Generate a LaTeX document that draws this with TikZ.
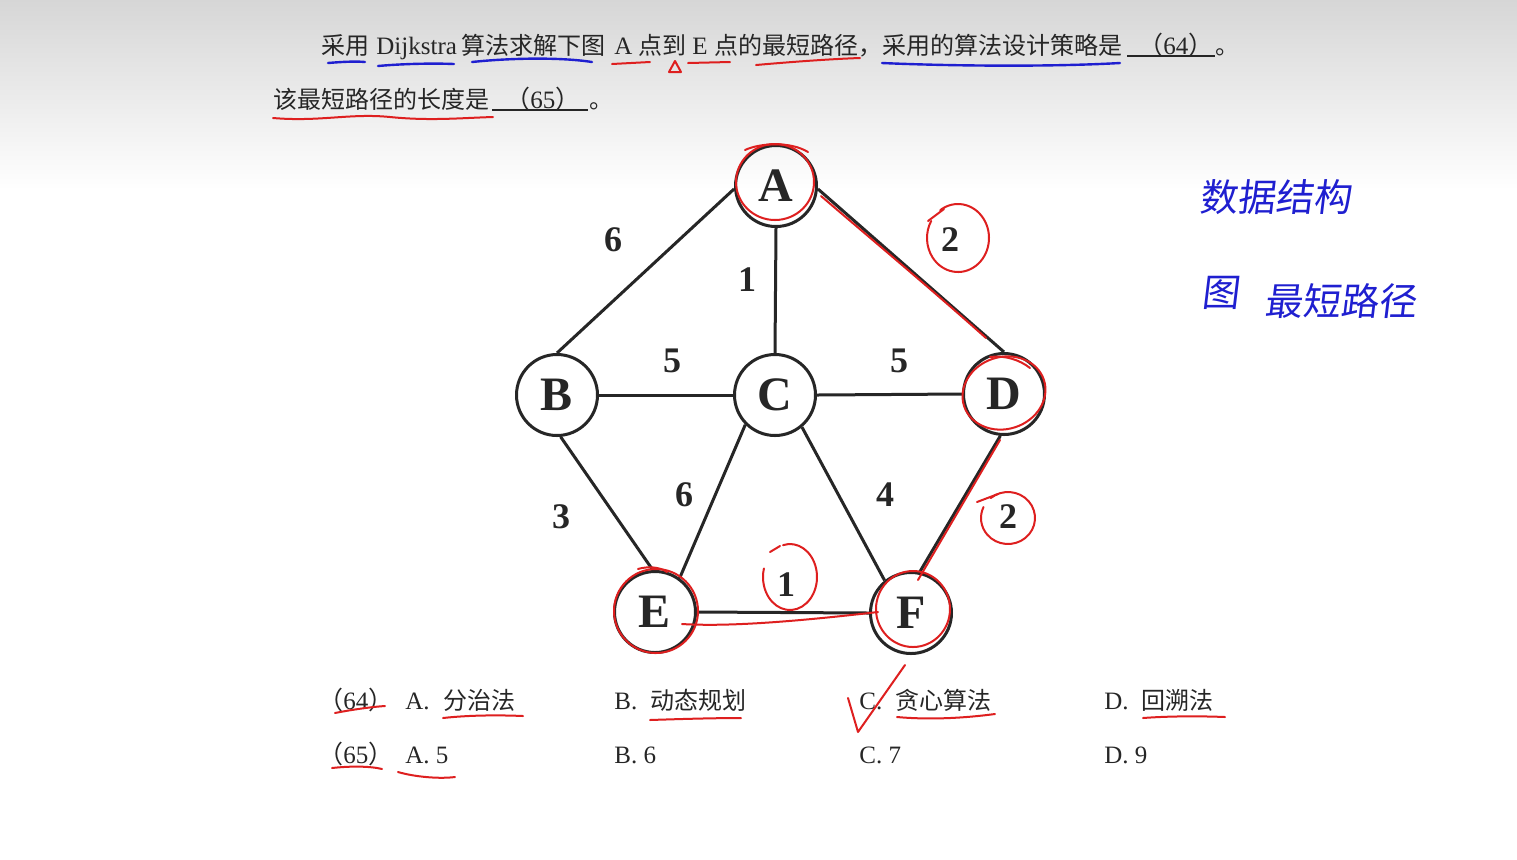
\documentclass[tikz,border=0pt]{standalone}
\usepackage{fontspec}
\setmainfont{Liberation Serif}
\newfontfamily\cjk{Noto Sans CJK SC}
\definecolor{ink}{HTML}{262626}
\definecolor{pred}{HTML}{DE1F1F}
\definecolor{pblue}{HTML}{1F1FD0}
\begin{document}
\begin{tikzpicture}[x=0.5pt,y=-0.5pt,
  vtx/.style={circle,draw=ink,line width=1.5pt,minimum size=40.5pt,inner sep=0pt,font=\bfseries\fontsize{24}{24}\selectfont,text=ink},
  wt/.style={font=\bfseries\fontsize{18}{18}\selectfont,text=ink,inner sep=0pt},
  edge/.style={draw=ink,line width=1.5pt},
  txt/.style={anchor=base west,inner sep=0pt,font=\fontsize{12.5}{12.5}\selectfont,text=ink},
  zh/.style={anchor=base west,inner sep=0pt,font=\cjk\fontsize{12}{12}\selectfont,text=ink},
  hand/.style={inner sep=0pt,font=\cjk\fontsize{19}{19}\selectfont,text=pblue,xslant=0.12},
  redpen/.style={draw=pred,line width=1pt,line cap=round,line join=round},
  bluepen/.style={draw=pblue,line width=1.2pt,line cap=round,line join=round}]

\useasboundingbox (0,0) rectangle (1517,859);
\fill[white] (0,0) rectangle (1517,859);
\shade[top color=gray!32,bottom color=white] (0,0) rectangle (1517,190);

% ---- question text, line 1
\node[zh]  (q1) at (321,54) {采用};
\node[txt] (q2) at (376,54) {Dijkstra};
\node[zh]  (q3) at (461,54) {算法求解下图};
\node[txt] (q4) at (614,54) {A};
\node[zh]  (q5) at (638,54) {点到};
\node[txt] (q6) at (692,54) {E};
\node[zh]  (q7) at (714,54) {点的最短路径，};
\node[zh]  (q8) at (882,54) {采用的算法设计策略是};
\node[txt] (q9) at (1138,54) {{\cjk （}64{\cjk ）}};
\node[zh]  (q10) at (1215,54) {。};
\draw[ink,line width=0.9pt] (1127,56) -- (1215,56);
% ---- question text, line 2
\node[zh]  (r1) at (273,108) {该最短路径的长度是};
\node[txt] (r2) at (505,108) {{\cjk （}65{\cjk ）}};
\node[zh]  (r3) at (589,108) {。};
\draw[ink,line width=0.9pt] (492,110) -- (588,110);

% ---- graph
\node[vtx] (A) at (776,186) {A};
\node[vtx] (B) at (557,395) {B};
\node[vtx] (C) at (775,395) {C};
\node[vtx] (D) at (1004,394) {D};
\node[vtx] (E) at (655,612) {E};
\node[vtx] (F) at (911,613) {F};

\draw[edge] (A.184) -- (B.north);
\draw[edge] (A.south) -- (C.north);
\draw[edge] (A.-4) -- (D.north);
\draw[edge] (B.east) -- (C.west);
\draw[edge] (C.east) -- (D.west);
\draw[edge] (B.-85) -- (E.93);
\draw[edge] (C.-135) -- (E.54);
\draw[edge] (C.-50) -- (F.129);
\draw[edge] (D.-95) -- (F.78);
\draw[edge] (E.east) -- (F.west);

\node[wt] (w1) at (613,240) {6};
\node[wt] (w2) at (747,280) {1};
\node[wt] (w3) at (950,240) {2};
\node[wt] (w4) at (672,361) {5};
\node[wt] (w5) at (899,361) {5};
\node[wt] (w6) at (561,517) {3};
\node[wt] (w7) at (684,495) {6};
\node[wt] (w8) at (885,495) {4};
\node[wt] (w9) at (1008,517) {2};
\node[wt] (w10) at (786,585) {1};

% ---- options
\node[txt] (o1) at (318,709) {{\cjk （}64{\cjk ）}};
\node[txt] (o2) at (405,709) {A.};
\node[zh]  (o3) at (443,709) {分治法};
\node[txt] (o4) at (614,709) {B.};
\node[zh]  (o5) at (650,709) {动态规划};
\node[txt] (o6) at (859,709) {C.};
\node[zh]  (o7) at (895,709) {贪心算法};
\node[txt] (o8) at (1104,709) {D.};
\node[zh]  (o9) at (1141,709) {回溯法};
\node[txt] (p1) at (318,763) {{\cjk （}65{\cjk ）}};
\node[txt] (p2) at (405,763) {A. 5};
\node[txt] (p3) at (614,763) {B. 6};
\node[txt] (p4) at (859,763) {C. 7};
\node[txt] (p5) at (1104,763) {D. 9};

% ---- blue handwriting and underlines
\node[hand] (h1) at (1277,197) {数据结构};
\node[hand] (h2) at (1222,293) {图};
\node[hand] (h3) at (1342,301) {最短路径};
\draw[bluepen] (328,63) .. controls (340,62) and (355,61) .. (365,62);
\draw[bluepen] (378,66) .. controls (400,64) and (430,63) .. (454,64);
\draw[bluepen] (472,62) .. controls (510,58) and (560,57) .. (592,62);
\draw[bluepen] (882,63) .. controls (950,66) and (1050,67) .. (1120,63);

% ---- red annotations, question text
\draw[redpen] (612,64) -- (650,62);
\draw[redpen] (669,72) -- (675,61) -- (681,72) -- cycle;
\draw[redpen] (688,63) -- (730,62);
\draw[redpen] (756,65) .. controls (790,62) and (830,59) .. (860,58);
\draw[redpen] (273,118) .. controls (320,122) and (350,113) .. (390,117) .. controls (430,121) and (460,118) .. (493,117);

% ---- red annotations, graph
\draw[redpen] (775,182) ellipse [x radius=39, y radius=38];
\draw[redpen] (745,150) .. controls (760,143) and (790,141) .. (808,152);
\draw[redpen, rotate around={18:(1004,393)}] (1004,393) ellipse [x radius=42, y radius=36];
\draw[redpen] (990,357) .. controls (1005,355) and (1020,360) .. (1030,368);
\draw[redpen] (656,611) ellipse [x radius=42, y radius=42];
\draw[redpen] (638,569) .. controls (648,566) and (660,567) .. (667,572);
\draw[redpen] (913,609) ellipse [x radius=37, y radius=38];
\draw[redpen] (821,196) .. controls (870,238) and (930,288) .. (986,338);
\draw[redpen] (1000,440) -- (918,580);
\draw[redpen] (682,624) .. controls (730,627) and (800,621) .. (878,612);
\draw[redpen] (958,238) ++(235:31 and 34) arc[start angle=235, end angle=570, x radius=31, y radius=34];
\draw[redpen] (928,221) -- (944,209);
\draw[redpen] (1008,518) ++(230:27 and 26) arc[start angle=230, end angle=565, x radius=27, y radius=26];
\draw[redpen] (977,502) -- (998,494);
\draw[redpen] (790,577) ++(255:27 and 33) arc[start angle=255, end angle=555, x radius=27, y radius=33];
\draw[redpen] (770,552) -- (780,546);

% ---- red annotations, options
\draw[redpen] (335,713) .. controls (350,710) and (370,707) .. (385,706);
\draw[redpen] (443,718) .. controls (470,715) and (500,715) .. (523,716);
\draw[redpen] (650,720) .. controls (680,719) and (715,718) .. (741,718);
\draw[redpen] (848,698) -- (858,732) -- (905,665);
\draw[redpen] (897,717) .. controls (930,720) and (965,718) .. (995,714);
\draw[redpen] (1143,718) .. controls (1170,716) and (1200,716) .. (1225,717);
\draw[redpen] (332,768) .. controls (350,766) and (370,766) .. (382,769);
\draw[redpen] (398,772) .. controls (415,777) and (440,779) .. (455,777);

\end{tikzpicture}
\end{document}
